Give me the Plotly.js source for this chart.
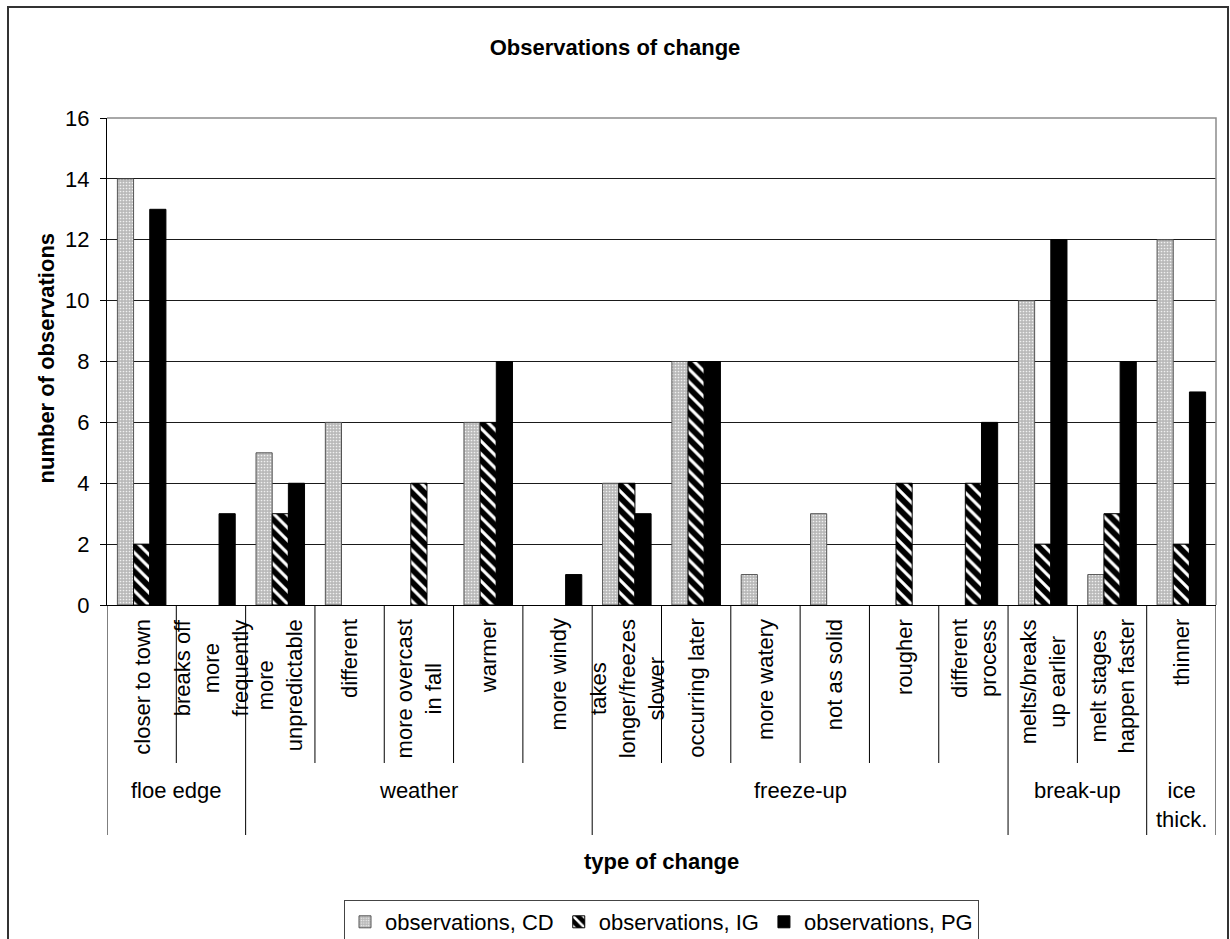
<!DOCTYPE html>
<html>
<head>
<meta charset="utf-8">
<script src="https://cdn.plot.ly/plotly-3.0.1.min.js"></script>
<style>
html,body{margin:0;padding:0;background:#fff;}
#chart{width:1230px;height:939px;}
</style>
</head>
<body>
<div id="chart"></div>
<script>
// ---- data ----
const categories = ['closer to town','breaks off more frequently','more unpredictable','different','more overcast in fall','warmer','more windy','takes longer/freezes slower','occurring later','more watery','not as solid','rougher','different process','melts/breaks up earlier','melt stages happen faster','thinner'];
const catLabels = ['closer to town','breaks off<br>more<br>frequently','more<br>unpredictable','different','more overcast<br>in fall','warmer','more windy','takes<br>longer/freezes<br>slower','occurring later','more watery','not as solid','rougher','different<br>process','melts/breaks<br>up earlier','melt stages<br>happen faster','thinner'];
const groups = ['floe edge','weather','freeze-up','break-up','ice<br>thick.'];
const groupSizes = [2,5,6,2,1];
const seriesNames = ['observations, CD','observations, IG','observations, PG'];
const valuesCD = [14,0,5,6,0,6,0,4,8,1,3,0,0,10,1,12];
const valuesIG = [2,0,3,0,4,6,0,4,8,0,0,4,4,2,3,2];
const valuesPG = [13,3,4,0,0,8,1,3,8,0,0,0,6,12,8,7];

// ---- layout geometry (px) ----
const W=1230,H=939, L=107, R=14, T=118, B=334;
const plotW = W-L-R, plotH = H-T-B;
const py = p => (H-B - p)/plotH;      // pixel y -> paper y
const px = p => (p - L)/plotW;        // pixel x -> paper x
const FONT = 'Liberation Sans, Arial, sans-serif';
const outline = vals => vals.map(v => v ? 1 : 0);   // no outline on empty bars

const traces = [
  {type:'bar', name:seriesNames[0], x:categories, y:valuesCD,
   marker:{color:'#c4c4c4', line:{color:'#555', width:outline(valuesCD)},
     pattern:{shape:'.', fgcolor:'#f0f0f0', bgcolor:'#b9b9b9', size:3, solidity:0.25}}},
  {type:'bar', name:seriesNames[1], x:categories, y:valuesIG,
   marker:{color:'#000', line:{color:'#000', width:outline(valuesIG)},
     pattern:{shape:'\\', fgcolor:'#ffffff', bgcolor:'#000000', size:9, solidity:0.35}}},
  {type:'bar', name:seriesNames[2], x:categories, y:valuesPG,
   marker:{color:'#000', line:{color:'#000', width:outline(valuesPG)}}}
];

const annotations = [];
const shapes = [];
// category labels
catLabels.forEach((t,i)=>{
  annotations.push({x:categories[i], xref:'x', y:py(617), yref:'paper', text:t, textangle:-90,
    xanchor:'center', yanchor:'top', align:'center', showarrow:false,
    font:{family:FONT, size:22, color:'#000'}});
});
// group labels and dividers
let start=0;
const groupBounds=[-0.5];
groups.forEach((g,k)=>{
  const n=groupSizes[k];
  annotations.push({x:start+(n-1)/2, xref:'x', y:py(776), yref:'paper', text:g,
    xanchor:'center', yanchor:'top', align:'center', showarrow:false,
    font:{family:FONT, size:22, color:'#000'}});
  for(let j=1;j<n;j++){
    const xb=start+j-0.5;
    shapes.push({type:'line', xref:'x', yref:'paper', x0:xb, x1:xb, y0:0, y1:py(763),
      line:{color:'#000', width:1}});
  }
  start+=n;
  groupBounds.push(start-0.5);
});
groupBounds.forEach(xb=>{
  shapes.push({type:'line', xref:'x', yref:'paper', x0:xb, x1:xb, y0:0, y1:py(835),
    line:{color:'#000', width:1}});
});
// plot area top/right border (grey)
shapes.push({type:'path', xref:'paper', yref:'paper', path:'M0,1 L1,1 L1,0', line:{color:'#8c8c8c', width:1.5}, layer:'above'});
// outer chart border
shapes.push({type:'rect', xref:'paper', yref:'paper', x0:px(8), x1:px(1228), y0:py(946), y1:py(7),
  line:{color:'#333', width:2}, fillcolor:'rgba(0,0,0,0)'});

// axis titles
annotations.push({xref:'paper', yref:'paper', x:0.5, y:py(861), text:'type of change', showarrow:false,
  xanchor:'center', yanchor:'middle', font:{family:FONT, size:22, color:'#000', weight:'bold'}});
annotations.push({xref:'paper', yref:'paper', x:px(45.5), y:py(358), text:'number of observations', textangle:-90, showarrow:false,
  xanchor:'center', yanchor:'middle', font:{family:FONT, size:22, color:'#000', weight:'bold'}});

const layout = {
  width:W, height:H,
  margin:{l:L, r:R, t:T, b:B, pad:0, autoexpand:false},
  paper_bgcolor:'#fff', plot_bgcolor:'#fff',
  title:{text:'Observations of change', x:0.5, xref:'container', y:1-47/H, yref:'container',
    xanchor:'center', yanchor:'middle', font:{family:FONT, size:22, color:'#000', weight:'bold'}},
  barmode:'group', bargap:0.3, bargroupgap:0,
  showlegend:true,
  legend:{orientation:'h', x:(L+plotW/2)/W, xanchor:'center', y:1-900/H, yanchor:'top', xref:'container', yref:'container',
    bordercolor:'#444', borderwidth:1, bgcolor:'#fff', itemwidth:30, tracegroupgap:0,
    font:{family:FONT, size:22, color:'#000'}},
  xaxis:{type:'category', range:[-0.5,15.5], showticklabels:false, ticks:'', showline:true, linecolor:'#000', linewidth:1,
    showgrid:false, zeroline:false, fixedrange:true},
  yaxis:{range:[0,16], dtick:2, tick0:0, ticks:'outside', ticklen:6, tickcolor:'#000', tickwidth:1,
    showline:true, linecolor:'#000', linewidth:1, showgrid:true, gridcolor:'#1a1a1a', gridwidth:1,
    zeroline:false, ticklabelstandoff:6,
    tickfont:{family:FONT, size:22, color:'#000'}, fixedrange:true},
  annotations:annotations,
  shapes:shapes,
  font:{family:FONT, size:22, color:'#000'}
};

Plotly.newPlot('chart', traces, layout, {displayModeBar:false, staticPlot:true});
</script>
</body>
</html>
